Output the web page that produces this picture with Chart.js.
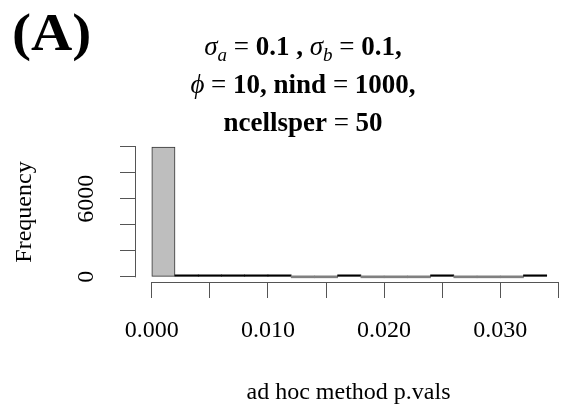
<!DOCTYPE html>
<html>
<head>
<meta charset="utf-8">
<script src="https://cdn.jsdelivr.net/npm/chart.js@4.4.1/dist/chart.umd.min.js"></script>
<style>
  html, body { margin: 0; padding: 0; background: #fff; overflow: hidden; }
  #wrap { width: 561px; height: 409px; }
</style>
</head>
<body>
<div id="wrap"><canvas id="hist"></canvas></div>
<script>
// histogram bins (p-value bins of width 0.002) and their counts
const binStarts = [0, 0.002, 0.004, 0.006, 0.008, 0.01, 0.012, 0.014, 0.016,
  0.018, 0.02, 0.022, 0.024, 0.026, 0.028, 0.03, 0.032];
const binWidth = 0.002;
const counts = [9964, 12, 8, 5, 4, 3, 0, 0, 2, 0, 0, 0, 1, 0, 0, 0, 1];

// tick positions and the labels R printed (others overlap and were dropped)
const xTicks = [0, 0.005, 0.01, 0.015, 0.02, 0.025, 0.03, 0.035];
const xTickLabels = ['0.000', '', '0.010', '', '0.020', '', '0.030', ''];
const yTicks = [0, 2000, 4000, 6000, 8000, 10000];
const yTickLabels = ['0', '', '', '6000', '', ''];

const serif = 'Liberation Serif';
const axisGrey = '#555';

// title parts: [text, style]  n = normal, b = bold, i = italic, s = italic subscript
const titleLines = [
  [['σ', 'i'], ['a', 's'], [' = ', 'n'], ['0.1 , ', 'b'], ['σ', 'i'], ['b', 's'], [' = ', 'n'], ['0.1,', 'b']],
  [['ϕ', 'i'], [' = ', 'n'], ['10, nind ', 'b'], ['= ', 'n'], ['1000,', 'b']],
  [['ncellsper ', 'b'], ['= ', 'n'], ['50', 'b']],
];

const fontFor = (style) => {
  if (style === 'b') return 'bold 27px "' + serif + '"';
  if (style === 'i') return 'italic 27px "' + serif + '"';
  if (style === 's') return 'italic 19px "' + serif + '"';
  return '27px "' + serif + '"';
};

const titlePlugin = {
  id: 'richTitle',
  afterDraw(chart) {
    const c = chart.ctx;
    c.save();
    c.fillStyle = '#000';
    c.textBaseline = 'alphabetic';
    c.textAlign = 'left';
    // panel letter
    c.font = 'bold 52px "' + serif + '"';
    c.save();
    c.translate(12, 50);
    c.scale(1.1, 1);
    c.fillText('(A)', 0, 0);
    c.restore();

    const centerX = 303;
    const baselines = [55, 93, 131];
    titleLines.forEach((parts, li) => {
      let total = 0;
      parts.forEach(([t, s]) => { c.font = fontFor(s); total += c.measureText(t).width; });
      let x = centerX - total / 2;
      parts.forEach(([t, s]) => {
        c.font = fontFor(s);
        c.fillText(t, x, baselines[li] + (s === 's' ? 6 : 0));
        x += c.measureText(t).width;
      });
    });
    c.restore();
  }
};

// axis lines only span the first to last tick, like base R
const axisLinePlugin = {
  id: 'axisLines',
  afterDraw(chart) {
    const c = chart.ctx;
    const xs = chart.scales.x;
    const ys = chart.scales.y;
    const area = chart.chartArea;
    c.save();
    c.strokeStyle = axisGrey;
    c.lineWidth = 1;
    c.beginPath();
    const by = Math.round(area.bottom) + 0.5;
    c.moveTo(xs.getPixelForValue(xTicks[0]), by);
    c.lineTo(xs.getPixelForValue(xTicks[xTicks.length - 1]) + 0.5, by);
    const lx = Math.round(area.left) - 0.5;
    c.moveTo(lx, ys.getPixelForValue(yTicks[0]) + 0.5);
    c.lineTo(lx, ys.getPixelForValue(yTicks[yTicks.length - 1]));
    c.stroke();
    c.restore();
  }
};

const ctx = document.getElementById('hist').getContext('2d');

// eslint-disable-next-line no-unused-vars
const hist = new Chart(ctx, {
  type: 'bar',
  data: {
    datasets: [
      {
        label: 'Frequency',
        data: binStarts.map((s, i) => ({ x: s + binWidth / 2, y: counts[i] })),
        backgroundColor: counts.map((c, i) => (i === 0 ? '#bebebe' : c > 0 ? '#000' : '#808080')),
        borderColor: '#333',
        borderWidth: counts.map((c, i) => (i === 0 ? 1 : 0)),
        borderSkipped: false,
        minBarLength: 2,
        barPercentage: 1,
        categoryPercentage: 1,
      },
    ],
  },
  options: {
    responsive: true,
    maintainAspectRatio: false,
    animation: false,
    layout: { padding: { top: 142, right: 0, bottom: 0, left: 0 } },
    plugins: { legend: { display: false }, tooltip: { enabled: false } },
    scales: {
      x: {
        type: 'linear',
        min: -0.00136,
        max: 0.03523,
        offset: false,
        border: { display: false },
        grid: { offset: false, drawOnChartArea: false, drawTicks: true, tickLength: 16, color: axisGrey },
        afterBuildTicks: (scale) => { scale.ticks = xTicks.map((v) => ({ value: v })); },
        ticks: {
          autoSkip: false,
          maxRotation: 0,
          padding: 18,
          color: '#000',
          font: { family: serif, size: 24 },
          callback: (v, i) => xTickLabels[i],
        },
        title: {
          display: true,
          text: 'ad hoc method p.vals',
          color: '#000',
          font: { family: serif, size: 24 },
          padding: { top: 0, bottom: 2 },
        },
        afterFit: (scale) => {
          scale.height = 127;
          scale.paddingLeft = 0;
          scale.paddingRight = 0;
        },
      },
      y: {
        min: -398,
        max: 10362,
        border: { display: false },
        grid: { drawOnChartArea: false, drawTicks: true, tickLength: 16, color: axisGrey },
        afterBuildTicks: (scale) => { scale.ticks = yTicks.map((v) => ({ value: v })); },
        ticks: {
          autoSkip: false,
          minRotation: 90,
          maxRotation: 90,
          crossAlign: 'center',
          padding: 9,
          color: '#000',
          font: { family: serif, size: 24 },
          callback: (v, i) => yTickLabels[i],
        },
        title: {
          display: true,
          text: 'Frequency',
          color: '#000',
          font: { family: serif, size: 24 },
          padding: { top: 10, bottom: 0 },
        },
        afterFit: (scale) => {
          scale.width = 136;
          scale.paddingTop = 0;
          scale.paddingBottom = 0;
        },
      },
    },
  },
  plugins: [titlePlugin, axisLinePlugin],
});
</script>
</body>
</html>
